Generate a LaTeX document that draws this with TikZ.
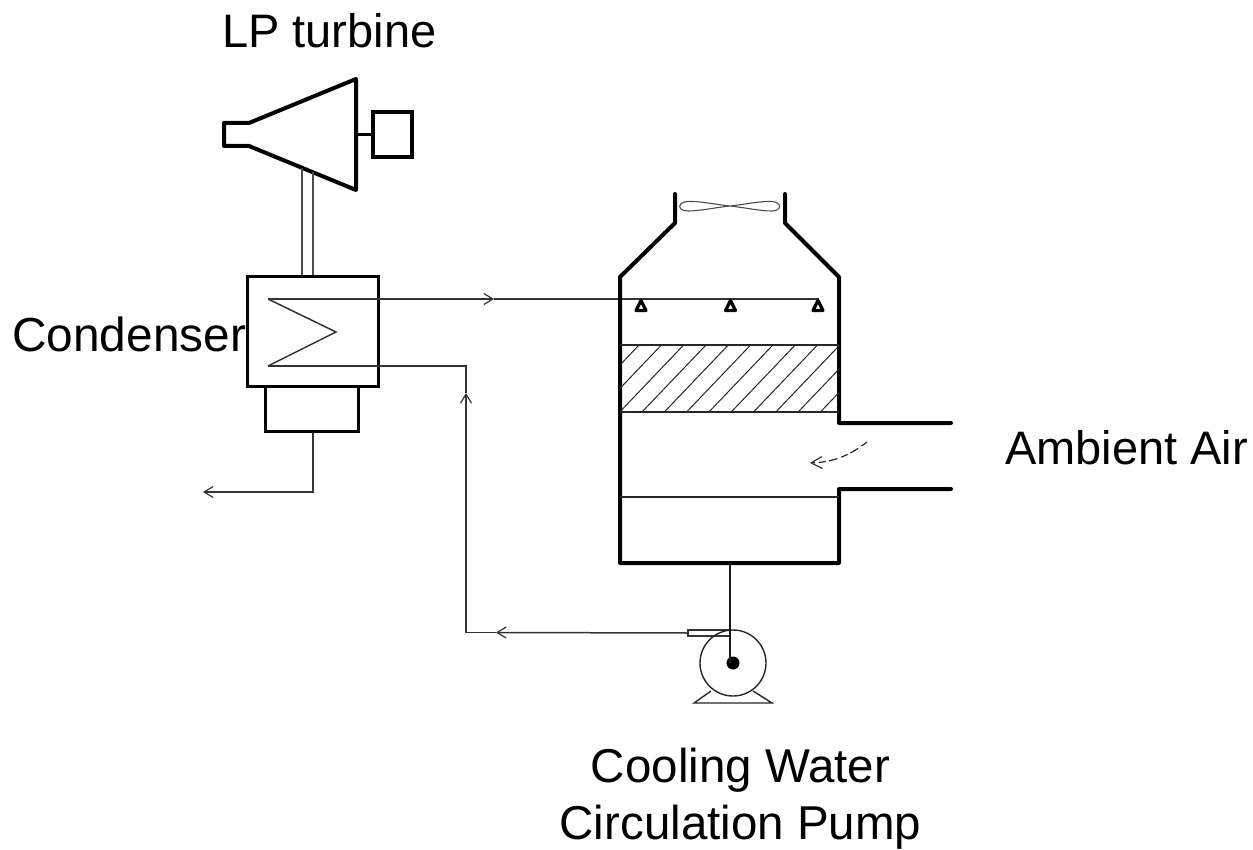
\documentclass[tikz,border=0pt]{standalone}
\usepackage{fontspec}
\setmainfont{Liberation Sans}
\usetikzlibrary{arrows.meta}
\tikzset{
  heavy/.style={line width=4pt,line join=round,line cap=round},
  mid/.style={line width=3pt,line join=miter},
  pipe/.style={line width=1.5pt,color=black!80},
  flow/.style={pipe,-{Straight Barb[length=9pt,width=11pt,line width=1.2pt]}},
  lab/.style={font=\fontsize{47}{57}\selectfont,inner sep=0pt,align=center},
  boxnode/.style={draw,mid,rectangle,inner sep=0pt,minimum width=#1},
}
\begin{document}
\begin{tikzpicture}[x=1pt,y=-1pt]
\useasboundingbox (0,0) rectangle (1253,850);
% labels
\node[lab,anchor=base west] (lblLP) at (222,48) {LP turbine};
\node[lab,anchor=base west,font=\fontsize{47.8}{57}\selectfont] (lblCond) at (12,352) {Condenser};
\node[lab,anchor=base west] (lblAir) at (1005,464) {Ambient Air};
\node[lab,font=\fontsize{47.5}{57}\selectfont] (lblPump) at (740.5,798.5) {Cooling Water\\Circulation Pump};
% turbine
\coordinate (tA) at (224,123);
\coordinate (tB) at (249,123);
\coordinate (tC) at (356,79);
\coordinate (tD) at (356,190);
\coordinate (tE) at (249,146);
\coordinate (tF) at (224,146);
\draw[heavy] (tA)--(tB)--(tC)--(tD)--(tE)--(tF)--cycle;
\node[boxnode=39pt,minimum height=45pt,line width=3.5pt] (gen) at (392.5,134.5) {};
\coordinate (shaft) at (356,134.5);
\draw[line width=3pt] (shaft)--(gen.west);
% condenser
\node[boxnode=131pt,minimum height=109pt] (cond) at (312.5,331.5) {};
\node[boxnode=93pt,minimum height=45pt] (hot) at (311.5,408.5) {};
\coordinate (ductLa) at (302,168);
\coordinate (ductRa) at (313,172);
\draw[line width=1.6pt,black!70] (ductLa)--(ductLa|-cond.north);
\draw[line width=1.6pt,black!70] (ductRa)--(ductRa|-cond.north);
% coil
\coordinate (coilT) at (268,299);
\coordinate (coilM) at (336,332);
\coordinate (coilB) at (268,366);
\draw[pipe,line join=miter] (coilT)--(coilM)--(coilB);
% hot water to sprays
\coordinate (sprayEnd) at (819,299);
\coordinate (arrA) at (494,299);
\draw[flow] (coilT)--(arrA);
\draw[pipe] (arrA)--(sprayEnd);
% return to condenser
\coordinate (retCorner) at (466,366);
\coordinate (retBot) at (466,632.5);
\coordinate (retArr) at (466,393);
\coordinate (pumpArr) at (496,632.5);
\node[draw,line width=1.3pt,black!80,inner sep=0pt,minimum width=42pt,minimum height=6pt] (disch) at (709,633) {};
\draw[flow] (disch.west)--(pumpArr);
\draw[pipe] (pumpArr)--(retBot);
\draw[flow] (retBot)--(retArr);
\draw[pipe] (retArr)--(retCorner)--(coilB);
% drain
\coordinate (drainC) at (313,492);
\coordinate (drainE) at (203,492);
\draw[flow] (hot.south-|drainC)--(drainC)--(drainE);
% tower
\coordinate (wL1) at (675,194);
\coordinate (wL2) at (675,223);
\coordinate (wL3) at (620,277);
\coordinate (wL4) at (620,563);
\coordinate (wR1) at (785,194);
\coordinate (wR2) at (785,223);
\coordinate (wR3) at (839,277);
\coordinate (wR4) at (839,423);
\coordinate (wR5) at (951,423);
\coordinate (wR6) at (951,489);
\coordinate (wR7) at (839,489);
\coordinate (wR8) at (839,563);
\draw[heavy] (wL1)--(wL2)--(wL3)--(wL4)--(wR8)--(wR7)--(wR6);
\draw[heavy] (wR1)--(wR2)--(wR3)--(wR4)--(wR5);
% fill
\begin{scope}
\clip (620,345) rectangle (839,412);
\foreach \k in {-3,...,9}
  \draw[line width=1pt,black!85] ({642+22.3*\k},412)--({706+22.3*\k},345);
\end{scope}
\draw[line width=1.4pt,black!85] (620,345)--(839,345);
\draw[line width=1.4pt,black!85] (620,412)--(839,412);
% water level
\draw[line width=1.2pt,black!85] (620,497)--(839,497);
% fan
\draw[line width=1.1pt,black!70]
  (730,206) .. controls (712,204) and (700,201) .. (688,201.5)
  .. controls (677,202) and (677,211) .. (688,211)
  .. controls (700,211) and (712,208) .. (730,206)
  .. controls (748,204) and (760,201) .. (772,201.5)
  .. controls (782,202) and (782,211) .. (772,211)
  .. controls (760,211) and (748,208) .. (730,206) -- cycle;
% nozzles
\foreach \nx/\nn in {641/nzA,730.5/nzB,818/nzC}{
  \coordinate (\nn) at (\nx,298);
  \draw[line width=3.2pt,line join=round] (\nx,300.5)--(\nx-5,310.5)--(\nx+5,310.5)--cycle;
}
% air arrow
\coordinate (airS) at (867,442);
\coordinate (airE) at (810,463);
\draw[line width=1.2pt,black!85,dash pattern=on 7pt off 4pt on 9pt off 3pt,-{Straight Barb[length=11pt,width=12pt,line width=1.1pt]}]
  (airS) .. controls (850,455) and (835,462) .. (airE);
% pump
\node[circle,draw,line width=1.4pt,black!85,inner sep=0pt,minimum size=66pt] (pump) at (733,663) {};
\node[circle,fill=black,inner sep=0pt,minimum size=13pt] (hub) at (733,663) {};
\coordinate (suct) at (730,563);
\draw[line width=1.7pt,black!90] (suct)--(730,663);
\coordinate (bL) at (694,703);
\coordinate (bR) at (772,703);
\coordinate (lL) at (711,691);
\coordinate (lR) at (753,691);
\draw[line width=1.4pt,black!85] (lL)--(bL)--(bR)--(lR);
\end{tikzpicture}
\end{document}
